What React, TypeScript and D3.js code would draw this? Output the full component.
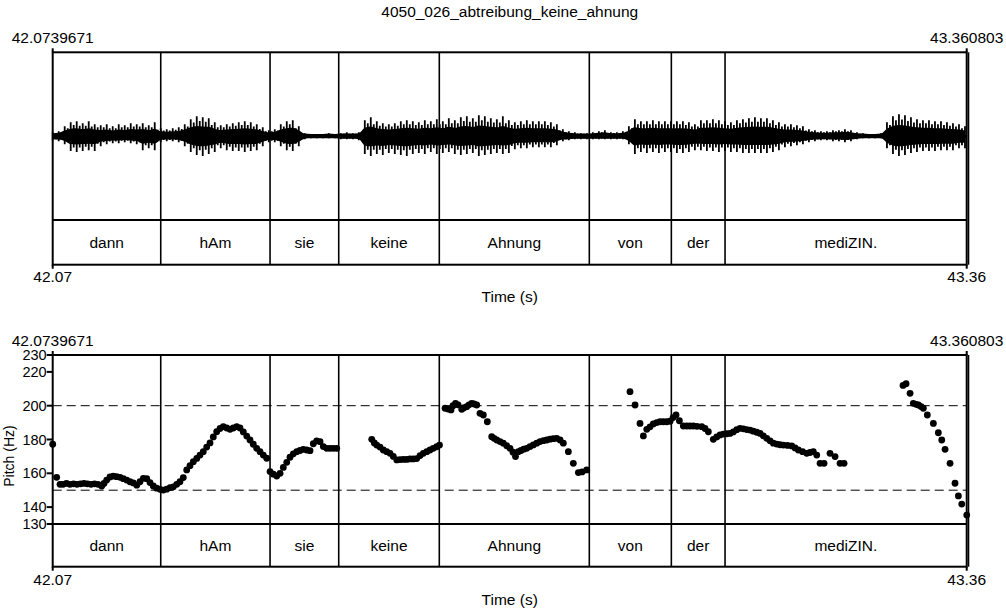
import React from "react";
import * as d3 from "d3";

const title = "4050_026_abtreibung_keine_ahnung";
const tStart = 42.0739671;
const tEnd = 43.360803;
const startLabel = "42.0739671";
const endLabel = "43.360803";
const startShort = "42.07";
const endShort = "43.36";

// word tier (ms from excerpt start)
const words = ["dann", "hAm", "sie", "keine", "Ahnung", "von", "der", "mediZIN."];
const wordBounds = [0, 152.1, 306.0, 402.7, 544.3, 755.5, 871.0, 946.6, 1286.8];

// waveform envelope: sampled every 8.45 ms, peak amplitudes (arbitrary units)
const waveStep = 8.45;
const waveUp = [4,5,10,14,15,13,15,12,11,12,10,12,11,13,12,13,11,14,8,7,8,9,12,17,20,19,18,14,11,12,13,14,15,14,12,9,6,7,12,15,16,10,3,2,2,2,3,2,3,4,3,4,16,19,15,13,12,13,15,16,15,14,16,15,17,15,18,16,19,20,18,21,20,18,17,20,16,14,15,16,15,15,15,14,12,7,5,4,3,3,4,5,6,4,4,5,10,17,15,15,16,15,15,15,15,15,14,12,16,16,17,16,15,14,16,17,18,19,18,18,16,14,12,12,11,10,7,6,5,5,6,6,7,6,4,3,2,2,3,14,20,22,21,19,17,16,16,15,15,14,13,12,10];
const waveDown = [4,5,8,15,16,15,14,15,10,8,7,7,6,7,8,14,12,14,6,5,5,6,10,16,19,20,18,16,12,14,15,15,16,15,14,10,6,6,10,14,15,10,3,2,2,2,2,2,3,3,3,4,18,20,18,19,17,18,19,20,18,17,18,16,18,17,16,18,19,18,17,20,19,18,17,18,17,13,12,12,11,11,11,11,9,5,4,3,3,3,3,3,3,3,3,3,8,18,16,17,16,17,16,16,17,17,16,14,14,15,15,16,15,16,16,17,17,17,17,17,16,14,11,10,9,8,6,5,4,4,5,5,6,5,3,2,2,2,2,12,18,20,19,17,16,15,15,15,14,14,14,12,12];

// pitch track: [ms from excerpt start, Hz]
const pitchTimes = [0,5.6,10.3,14.5,19.4,24.3,29.3,34.2,39.1,44.1,49.0,53.9,58.9,63.8,69.0,72.2,76.0,80.7,85.3,90.1,94.8,99.4,104.2,108.8,113.5,118.3,122.9,127.6,132.4,137.0,141.6,146.4,151.1,155.7,160.5,165.2,169.8,174.6,179.2,183.9,188.7,193.3,198.0,202.8,207.4,212.0,216.8,221.5,226.1,230.9,235.6,240.2,245.0,249.6,254.3,259.1,263.7,268.4,273.2,277.8,282.4,287.2,291.9,296.5,301.3,306.0,310.6,315.4,320.1,324.7,329.5,334.1,338.8,343.6,348.2,352.8,357.6,362.3,366.9,371.7,376.4,381.0,385.8,390.4,395.1,399.9,449.2,452.8,456.2,460.8,465.5,470.3,474.9,479.6,484.4,489.0,493.6,498.4,503.1,507.7,512.5,517.2,521.8,526.6,531.2,535.9,540.7,544.6,552.4,556.6,560.8,563.6,567.1,570.7,575.9,579.1,582.9,586.1,589.9,593.2,597.0,601.6,606.3,611.9,618.1,621.4,625.2,629.8,634.4,639.2,643.9,648.1,651.6,655.6,659.4,663.2,667.4,672.0,676.7,681.5,686.1,690.8,695.6,700.2,704.8,709.6,714.3,718.9,726.0,733.0,740.1,745.3,751.9,812.8,819.9,826.9,831.6,836.4,841.0,845.6,850.4,855.1,859.7,864.5,869.2,873.4,877.6,882.3,887.9,892.7,897.3,901.9,907.1,913.8,918.4,923.1,930.1,934.9,939.6,944.2,949.0,953.6,958.3,963.1,967.7,972.4,977.2,981.8,986.4,991.2,995.9,1000.5,1005.3,1010.0,1014.6,1019.4,1024.0,1028.7,1034.6,1040.5,1045.2,1049.8,1055.8,1061.6,1066.3,1070.9,1075.7,1080.4,1086.0,1094.4,1101.5,1108.5,1114.2,1197.2,1201.5,1207.1,1211.7,1215.6,1218.8,1222.6,1225.8,1231.4,1239.9,1246.9,1251.7,1256.4,1263.4,1270.4,1275.1,1279.9,1286.9];
const pitchHz = [177.2,157.6,153.5,153.5,154,153.5,153.8,153.5,153.8,154,153.8,153.5,153.8,153.5,152.5,154,156,157.8,158.3,158,157.6,156.8,156,155,154.3,153,155,157,156.8,154.5,152.5,151.2,150.5,150.1,150.6,151.5,152,153.5,155,157.5,162,164.5,166.9,168.8,170.8,172.8,175.5,178,181.5,184.6,186.5,187.6,186.8,186,186.8,187.6,186.8,184.5,182,179.7,177.2,174.8,172.8,170.8,168.9,161,159.5,158.4,160,163.5,166.5,169.5,171.5,172.8,173.5,174.2,173.8,173.4,177.5,179.2,178.7,175.8,174.8,174.8,174.8,174.8,180.1,178,176.7,175.5,173.8,172.8,171.8,170,167.9,168.1,168.2,168.2,168.5,168.5,168.7,170.5,171.8,172.8,173.8,174.8,175.7,176.7,198.5,198,197.5,200,201.4,200.5,197.9,198.8,199.4,200.5,201.4,201,200.4,195.5,194.5,190.5,181.7,180.7,179.7,178.8,177.8,176.3,174.8,172.5,169.9,172.8,173.5,174.3,174.8,175.8,176.8,177.8,178.8,179.3,179.7,180.2,180.5,180.7,179.7,177.8,172.8,165.9,160.4,160.8,162,208.3,200.4,189.5,182.1,186,187.5,189.2,190,190.5,190.5,190.5,190.8,193,194.5,191.1,188,188,188,188,187.8,187.6,186.5,184.6,180.1,181.5,182.7,183.2,183.4,183.6,184.5,185.8,186.6,186.3,185.9,185.6,184.9,184.3,183.6,182.2,180.7,179.2,177.8,177.3,176.9,176.7,176.5,176.2,175,173.8,172.8,171.8,172.3,172.8,170.8,165.9,165.9,171.8,169.9,165.9,165.9,212,213,207.3,201.4,200.8,200.4,199.5,198.5,194.5,189.5,184,179.7,174.2,165.9,154.1,146.6,141.8,135.3];

const pitchTicks = [230, 220, 200, 180, 160, 140, 130];
const pitchGuides = [200, 150];

const FONT = "'Liberation Sans', Arial, sans-serif";
const FS = 15.5;

export default function App() {
  const durMs = (tEnd - tStart) * 1000;
  const x = d3.scaleLinear().domain([0, durMs]).range([52.7, 966.7]);
  const xL = x(0), xR = x(durMs);

  // top panel
  const p1Top = 52.3, p1Tier = 220, p1Bot = 264.7;
  const yWave = d3.scaleLinear().domain([-84, 84]).range([p1Tier, p1Top]);
  const waveSamples = waveUp.map((u, i) => ({ t: i * waveStep, u, d: waveDown[i] }));
  const coreArea = d3.area<any>()
    .x(s => x(s.t))
    .y0(s => yWave(-s.d * 0.45 - 1.2))
    .y1(s => yWave(s.u * 0.45 + 1.2))
    .curve(d3.curveMonotoneX);
  let stripes = "";
  waveSamples.forEach((s, i) => {
    const xx = x(s.t);
    stripes += `M${xx},${yWave(s.u)}L${xx},${yWave(-s.d)}`;
    if (i < waveSamples.length - 1) {
      const n = waveSamples[i + 1];
      const xm = x(s.t + waveStep / 2);
      stripes += `M${xm},${yWave(Math.min(s.u, n.u) * 0.8)}L${xm},${yWave(-Math.min(s.d, n.d) * 0.75)}`;
    }
  });

  // pitch panel
  const p2Top = 355, p2Tier = 524, p2Bot = 566.7;
  const yP = d3.scaleLinear().domain([130, 230]).range([p2Tier, p2Top]);

  const tier = (top: number, bot: number, key: string) => (
    <g key={key}>
      {wordBounds.slice(1, -1).map((b, i) => (
        <line key={i} x1={x(b)} x2={x(b)} y1={top} y2={bot} stroke="#000" strokeWidth={1.6} />
      ))}
    </g>
  );
  const tierLabels = (tierTop: number, bot: number) =>
    words.map((w, i) => (
      <text key={w} x={(x(wordBounds[i]) + x(wordBounds[i + 1])) / 2} y={(tierTop + bot) / 2 + 5.5}
        textAnchor="middle" fontSize={FS} fontFamily={FONT} fill="#000">{w}</text>
    ));

  const frame = (top: number, tierY: number, bot: number) => (
    <g>
      <rect x={xL} y={top} width={xR - xL} height={bot - top} fill="none" stroke="#000" strokeWidth={2} />
      <line x1={xL} x2={xR} y1={tierY} y2={tierY} stroke="#000" strokeWidth={2} />
      <line x1={xR + 1.8} x2={xR + 1.8} y1={top} y2={bot} stroke="#000" strokeWidth={1.6} />
      <line x1={xL} x2={xL} y1={top - 4} y2={top} stroke="#000" strokeWidth={2} />
      <line x1={xR} x2={xR} y1={top - 4} y2={top} stroke="#000" strokeWidth={2} />
      <line x1={xL} x2={xL} y1={bot} y2={bot + 4} stroke="#000" strokeWidth={2} />
      <line x1={xR} x2={xR} y1={bot} y2={bot + 4} stroke="#000" strokeWidth={2} />
    </g>
  );

  const txt = (s: string, xx: number, yy: number, anchor: string = "middle", fs: number = FS) => (
    <text x={xx} y={yy} textAnchor={anchor} fontSize={fs} fontFamily={FONT} fill="#000">{s}</text>
  );

  return (
    <svg width={1006} height={609} style={{ position: "absolute", left: 0, top: 0, background: "#fff" }}>
      <rect x={0} y={0} width={1006} height={609} fill="#fff" />
      {txt(title, (xL + xR) / 2, 17)}

      {/* top panel */}
      {txt(startLabel, xL, 43)}
      {txt(endLabel, xR, 43)}
      <path d={coreArea(waveSamples) || ""} fill="#000" />
      <path d={stripes} stroke="#000" strokeWidth={1.8} fill="none" />
      <line x1={xL} x2={xR} y1={yWave(0)} y2={yWave(0)} stroke="#000" strokeWidth={2.5} />
      {tier(p1Top, p1Bot, "t1")}
      {frame(p1Top, p1Tier, p1Bot)}
      {tierLabels(p1Tier, p1Bot)}
      {txt(startShort, xL, 282)}
      {txt(endShort, xR, 282)}
      {txt("Time (s)", (xL + xR) / 2, 302)}

      {/* pitch panel */}
      {txt(startLabel, xL, 346)}
      {txt(endLabel, xR, 346)}
      {pitchGuides.map(g => (
        <line key={g} x1={xL} x2={xR} y1={yP(g)} y2={yP(g)} stroke="#000" strokeWidth={1} strokeDasharray="9,5" />
      ))}
      {tier(p2Top, p2Bot, "t2")}
      {frame(p2Top, p2Tier, p2Bot)}
      {pitchTicks.map(v => (
        <g key={v}>
          <line x1={xL - 6} x2={xL} y1={yP(v)} y2={yP(v)} stroke="#000" strokeWidth={2} />
          {txt(String(v), xL - 6, yP(v) + 5, "end", 14.5)}
        </g>
      ))}
      <g transform={`translate(14, 456) rotate(-90)`}>
        <text x={0} y={0} textAnchor="middle" fontSize={14} fontFamily={FONT} fill="#000">Pitch (Hz)</text>
      </g>
      {pitchTimes.map((t, i) => (
        <circle key={i} cx={x(t)} cy={yP(pitchHz[i])} r={3.4} fill="#000" />
      ))}
      {tierLabels(p2Tier, p2Bot)}
      {txt(startShort, xL, 585)}
      {txt(endShort, xR, 585)}
      {txt("Time (s)", (xL + xR) / 2, 605)}
    </svg>
  );
}
